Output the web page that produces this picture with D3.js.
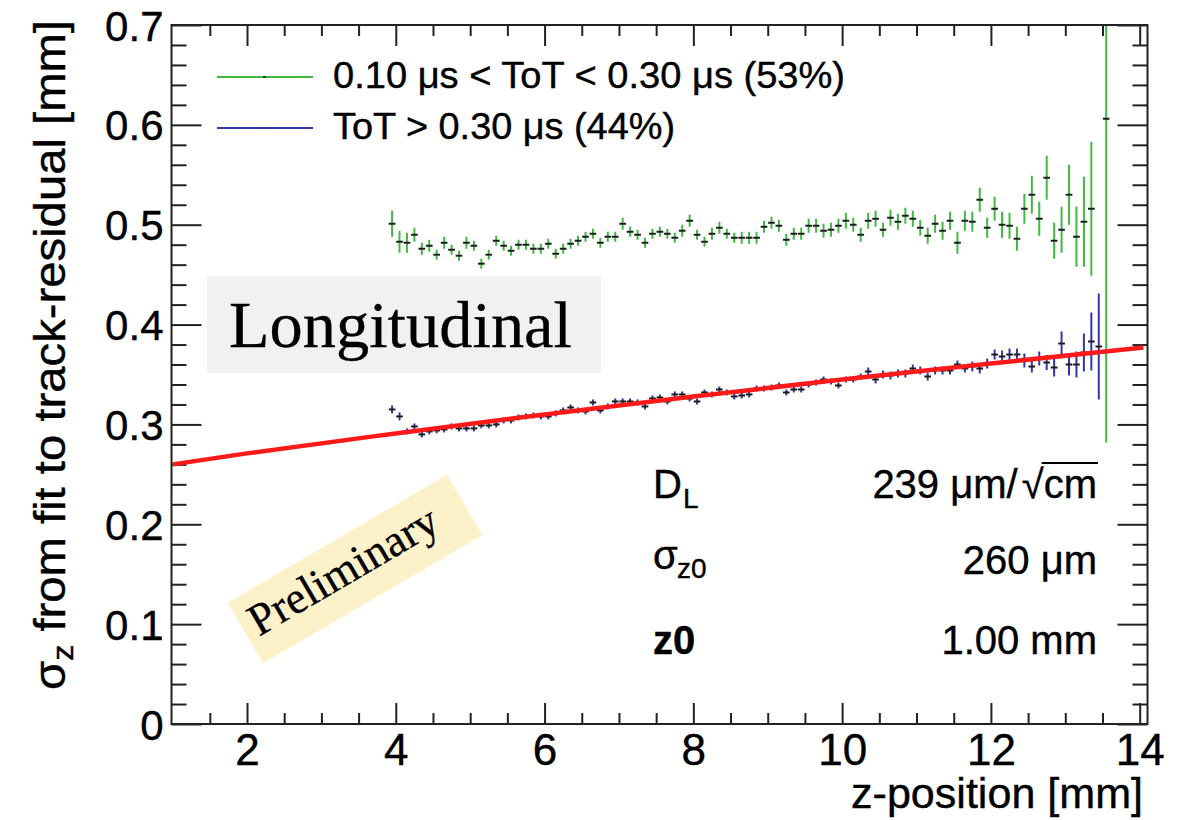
<!DOCTYPE html>
<html>
<head>
<meta charset="utf-8">
<script src="https://cdn.jsdelivr.net/npm/d3@7"></script>
<style>
  body { margin: 0; background: #fff; }
  svg text { font-family: "Liberation Sans", Arial, sans-serif; fill: #000; stroke: #000; stroke-width: 0.4px; }
  svg text.serif { font-family: "Liberation Serif", "Times New Roman", serif; stroke-width: 0.3px; }
</style>
</head>
<body>
<svg id="chart" width="1184" height="820"></svg>
<script>
// bin centres along the drift direction [mm]
let zBins = [3.95,4.05,4.15,4.25,4.35,4.45,4.55,4.65,4.75,4.85,
    4.95,5.05,5.15,5.25,5.35,5.45,5.55,5.65,5.75,5.85,
    5.95,6.05,6.15,6.25,6.35,6.45,6.55,6.65,6.75,6.85,
    6.95,7.05,7.15,7.25,7.35,7.45,7.55,7.65,7.75,7.85,
    7.95,8.05,8.15,8.25,8.35,8.45,8.55,8.65,8.75,8.85,
    8.95,9.05,9.15,9.25,9.35,9.45,9.55,9.65,9.75,9.85,
    9.95,10.05,10.15,10.25,10.35,10.45,10.55,10.65,10.75,10.85,
    10.95,11.05,11.15,11.25,11.35,11.45,11.55,11.65,11.75,11.85,
    11.95,12.05,12.15,12.25,12.35,12.45,12.55,12.65,12.75,12.85,
    12.95,13.05,13.15,13.25,13.35,13.45,13.55]

// 0.10 us < ToT < 0.30 us
let greenSigma = [0.501,0.483,0.482,0.490,0.476,0.479,0.470,0.482,0.475,0.469,
    0.482,0.479,0.461,0.470,0.484,0.479,0.474,0.480,0.480,0.476,
    0.476,0.481,0.471,0.476,0.481,0.484,0.488,0.491,0.482,0.488,
    0.488,0.501,0.493,0.490,0.482,0.491,0.493,0.491,0.487,0.494,
    0.504,0.490,0.483,0.491,0.497,0.491,0.487,0.487,0.487,0.487,
    0.498,0.502,0.499,0.485,0.491,0.491,0.499,0.499,0.494,0.495,
    0.499,0.504,0.500,0.490,0.504,0.506,0.495,0.507,0.503,0.509,
    0.506,0.497,0.489,0.501,0.494,0.504,0.482,0.504,0.503,0.525,
    0.497,0.516,0.500,0.499,0.486,0.516,0.530,0.506,0.547,0.484,
    0.495,0.530,0.488,0.503,0.516,null,0.606]
let greenErr = [0.013,0.011,0.010,0.007,0.006,0.006,0.005,0.006,0.005,0.005,
    0.006,0.005,0.005,0.005,0.005,0.005,0.005,0.005,0.005,0.005,
    0.005,0.005,0.005,0.005,0.005,0.005,0.005,0.005,0.005,0.005,
    0.005,0.006,0.005,0.005,0.005,0.005,0.005,0.005,0.005,0.006,
    0.006,0.005,0.005,0.006,0.006,0.005,0.005,0.006,0.006,0.006,
    0.006,0.006,0.006,0.006,0.006,0.006,0.007,0.007,0.007,0.007,
    0.007,0.008,0.007,0.007,0.008,0.008,0.007,0.008,0.008,0.008,
    0.008,0.008,0.008,0.009,0.009,0.009,0.011,0.010,0.010,0.012,
    0.010,0.012,0.013,0.013,0.012,0.015,0.019,0.017,0.022,0.018,
    0.023,0.030,0.030,0.045,0.067,null,0.324]

// ToT > 0.30 us
let blueSigma = [0.315,0.308,0.293,0.298,0.290,0.293,0.294,0.295,0.298,0.296,
    0.296,0.296,0.299,0.299,0.300,0.304,0.304,0.307,0.308,0.309,
    0.308,0.308,0.311,0.314,0.317,0.314,0.313,0.322,0.314,0.318,
    0.323,0.323,0.323,0.322,0.318,0.326,0.327,0.323,0.330,0.330,
    0.326,0.323,0.332,0.330,0.335,0.332,0.328,0.329,0.330,0.336,
    0.336,0.337,0.339,0.332,0.335,0.335,0.340,0.342,0.345,0.343,
    0.339,0.345,0.345,0.348,0.353,0.345,0.350,0.349,0.351,0.351,
    0.356,0.354,0.348,0.354,0.354,0.354,0.360,0.356,0.358,0.356,
    0.361,0.370,0.368,0.370,0.370,0.364,0.358,0.366,0.362,0.357,
    0.381,0.360,0.360,0.372,0.383,0.378]
let blueErr = [0.004,0.004,0.003,0.003,0.003,0.003,0.003,0.003,0.003,0.003,
    0.003,0.003,0.003,0.003,0.003,0.003,0.003,0.003,0.003,0.003,
    0.003,0.003,0.003,0.003,0.003,0.003,0.003,0.003,0.003,0.003,
    0.003,0.003,0.003,0.003,0.003,0.003,0.003,0.003,0.003,0.003,
    0.003,0.003,0.003,0.003,0.003,0.003,0.003,0.003,0.003,0.003,
    0.003,0.003,0.003,0.003,0.003,0.003,0.003,0.003,0.003,0.003,
    0.003,0.003,0.003,0.003,0.004,0.004,0.004,0.004,0.004,0.004,
    0.004,0.004,0.004,0.004,0.004,0.004,0.004,0.004,0.005,0.005,
    0.005,0.005,0.006,0.006,0.006,0.007,0.006,0.007,0.0075,0.009,
    0.012,0.011,0.013,0.019,0.029,0.053]

// fitted diffusion curve
let fitZ = [1.0, 2, 4, 6, 8, 10, 12, 14.05]
let fitSigma = [0.260, 0.271, 0.291, 0.310, 0.328, 0.345, 0.361, 0.377]

let xTicks = [2, 4, 6, 8, 10, 12, 14]
let yTicks = [0, 0.1, 0.2, 0.3, 0.4, 0.5, 0.6, 0.7]
let legendLabels = ["0.10 \u03bcs < ToT < 0.30 \u03bcs (53%)", "ToT > 0.30 \u03bcs (44%)"]
let fitNames = ["D", "\u03c3", "z0"]
let fitValues = ["239 \u03bcm/", "260 \u03bcm", "1.00 mm"]

let green = "#42b842"
let blue = "#3434ac"

let svg = d3.select("#chart")
let pLeft = 171.5, pRight = 1147.5, pTop = 25, pBottom = 724

let x = d3.scaleLinear().domain([0.985, 14.105]).range([pLeft, pRight])
let y = d3.scaleLinear().domain([0, 0.7]).range([pBottom, pTop])

svg.append("defs").append("clipPath").attr("id", "plotClip")
    .append("rect").attr("x", pLeft).attr("y", pTop)
    .attr("width", pRight - pLeft).attr("height", pBottom - pTop)

// axes: ticks point inward on all four sides
let xMinor = d3.range(1.5, 14.01, 0.5).filter(v => v % 2 != 0)
let yMinor = d3.range(0.02, 0.7, 0.02).filter(v => Math.abs(v * 10 - Math.round(v * 10)) > 0.01)
let styleAxis = (g) => {
    g.select(".domain").remove()
    g.selectAll(".tick line").attr("stroke", "#222").attr("stroke-width", 2)
}
svg.append("g").attr("transform", `translate(0,${pBottom})`)
    .call(d3.axisBottom(x).tickValues(xTicks).tickSize(-21).tickPadding(10).tickFormat(d3.format("d")))
    .call(styleAxis)
    .selectAll("text").attr("font-size", 44).attr("font-family", "Liberation Sans, Arial, sans-serif").attr("fill", "#000")
svg.append("g").attr("transform", `translate(0,${pBottom})`)
    .call(d3.axisBottom(x).tickValues(xMinor).tickSize(-11).tickFormat(""))
    .call(styleAxis)
svg.append("g").attr("transform", `translate(0,${pTop})`)
    .call(d3.axisTop(x).tickValues(xTicks).tickSize(-21).tickFormat(""))
    .call(styleAxis)
svg.append("g").attr("transform", `translate(0,${pTop})`)
    .call(d3.axisTop(x).tickValues(xMinor).tickSize(-11).tickFormat(""))
    .call(styleAxis)
svg.append("g").attr("transform", `translate(${pLeft},0)`)
    .call(d3.axisLeft(y).tickValues(yTicks).tickSize(-30).tickPadding(8)
        .tickFormat(d => d == 0 ? "0" : d3.format(".1f")(d)))
    .call(styleAxis)
    .selectAll("text").attr("font-size", 42).attr("dy", "0.36em").attr("font-family", "Liberation Sans, Arial, sans-serif").attr("fill", "#000")
svg.append("g").attr("transform", `translate(${pLeft},0)`)
    .call(d3.axisLeft(y).tickValues(yMinor).tickSize(-15).tickFormat(""))
    .call(styleAxis)
svg.append("g").attr("transform", `translate(${pRight},0)`)
    .call(d3.axisRight(y).tickValues(yTicks).tickSize(-30).tickFormat(""))
    .call(styleAxis)
svg.append("g").attr("transform", `translate(${pRight},0)`)
    .call(d3.axisRight(y).tickValues(yMinor).tickSize(-15).tickFormat(""))
    .call(styleAxis)

// annotation boxes sit under the data
svg.append("rect").attr("x", 207).attr("y", 276).attr("width", 394).attr("height", 97).attr("fill", "#f1f1f1")
svg.append("text").attr("class", "serif").attr("x", 229).attr("y", 347)
    .attr("font-size", 66).attr("textLength", 343).attr("lengthAdjust", "spacingAndGlyphs").text("Longitudinal")

let prelim = svg.append("g").attr("transform", "translate(355,569) rotate(-30.3)")
prelim.append("rect").attr("x", -127).attr("y", -35).attr("width", 254).attr("height", 70).attr("fill", "#fcf1c9")
prelim.append("text").attr("class", "serif").attr("x", -117).attr("y", 10)
    .attr("font-size", 45).attr("textLength", 212).attr("lengthAdjust", "spacingAndGlyphs").text("Preliminary")

// data points with error bars
let plot = svg.append("g").attr("clip-path", "url(#plotClip)")
let drawSeries = (vals, errs, color) => {
    let pts = vals.map((v, i) => ({ z: zBins[i], v: v, e: errs[i] })).filter(d => d.v != null)
    let g = plot.append("g")
    g.selectAll("line.ver").data(pts).enter().append("line")
        .attr("x1", d => x(d.z)).attr("x2", d => x(d.z))
        .attr("y1", d => y(d.v - d.e)).attr("y2", d => y(d.v + d.e))
        .attr("stroke", color).attr("stroke-width", 2)
    g.selectAll("line.hor").data(pts).enter().append("line")
        .attr("x1", d => x(d.z - 0.045)).attr("x2", d => x(d.z + 0.045))
        .attr("y1", d => y(d.v)).attr("y2", d => y(d.v))
        .attr("stroke", "#1c1c1c").attr("stroke-width", 2)
}
drawSeries(greenSigma, greenErr, green)
drawSeries(blueSigma, blueErr, blue)

let fitLine = d3.line().x(d => x(d[0])).y(d => y(d[1])).curve(d3.curveMonotoneX)
plot.append("path").datum(fitZ.map((z, i) => [z, fitSigma[i]]))
    .attr("d", fitLine).attr("fill", "none").attr("stroke", "#ff1a1a").attr("stroke-width", 4.5)

// frame
svg.append("rect").attr("x", pLeft).attr("y", pTop).attr("width", pRight - pLeft).attr("height", pBottom - pTop)
    .attr("fill", "none").attr("stroke", "#222").attr("stroke-width", 2)

// legend
let legendY = [77, 128]
let legendColors = [green, blue]
let legendWidths = [512, 342]
legendLabels.forEach((lab, i) => {
    svg.append("line").attr("x1", 217).attr("x2", 313).attr("y1", legendY[i]).attr("y2", legendY[i])
        .attr("stroke", legendColors[i]).attr("stroke-width", 2)
    svg.append("rect").attr("x", 263).attr("y", legendY[i] - 1).attr("width", 3).attr("height", 2).attr("fill", "#333")
    svg.append("text").attr("x", 333).attr("y", legendY[i] + 11).attr("font-size", 36)
        .attr("textLength", legendWidths[i]).attr("lengthAdjust", "spacingAndGlyphs").text(lab)
})

// fit results
let rowY = [498, 574, 654]
let n0 = svg.append("text").attr("x", 653).attr("y", rowY[0]).attr("font-size", 40)
n0.append("tspan").text(fitNames[0])
n0.append("tspan").attr("x", 683).attr("y", rowY[0] + 10).attr("font-size", 28).text("L")
let n1 = svg.append("text").attr("x", 653).attr("y", rowY[1] - 5).attr("font-size", 40)
n1.append("tspan").text(fitNames[1])
n1.append("tspan").attr("x", 677).attr("y", rowY[1] + 4).attr("font-size", 28).text("z0")
svg.append("text").attr("x", 653).attr("y", rowY[2]).attr("font-size", 40).attr("font-weight", "bold").text(fitNames[2])

let v0 = svg.append("text").attr("x", 1097).attr("y", rowY[0]).attr("font-size", 40).attr("text-anchor", "end")
v0.append("tspan").text(fitValues[0])
v0.append("tspan").attr("dx", 4).text("\u221a")
v0.append("tspan").text("cm")
let node = v0.node()
let nChars = node.getNumberOfChars()
let sqrtEnd = node.getEndPositionOfChar(nChars - 3)
let cmEnd = node.getEndPositionOfChar(nChars - 1)
svg.append("line").attr("x1", sqrtEnd.x - 2).attr("x2", cmEnd.x + 1).attr("y1", 463).attr("y2", 463)
    .attr("stroke", "#000").attr("stroke-width", 2)
svg.append("text").attr("x", 1097).attr("y", rowY[1]).attr("font-size", 40).attr("text-anchor", "end").text(fitValues[1])
svg.append("text").attr("x", 1097).attr("y", rowY[2]).attr("font-size", 40).attr("text-anchor", "end").text(fitValues[2])

// axis titles
svg.append("text").attr("x", 1143).attr("y", 808).attr("font-size", 42).attr("text-anchor", "end")
    .attr("textLength", 292).attr("lengthAdjust", "spacingAndGlyphs").text("z-position [mm]")
let yTitle = svg.append("text").attr("transform", "translate(65,20) rotate(-90)")
    .attr("text-anchor", "end").attr("font-size", 44)
    .attr("textLength", 670).attr("lengthAdjust", "spacingAndGlyphs")
yTitle.append("tspan").text("\u03c3")
yTitle.append("tspan").attr("font-size", 30).attr("dy", 8).text("z")
yTitle.append("tspan").attr("dy", -8).text(" from fit to track-residual [mm]")
</script>
</body>
</html>
